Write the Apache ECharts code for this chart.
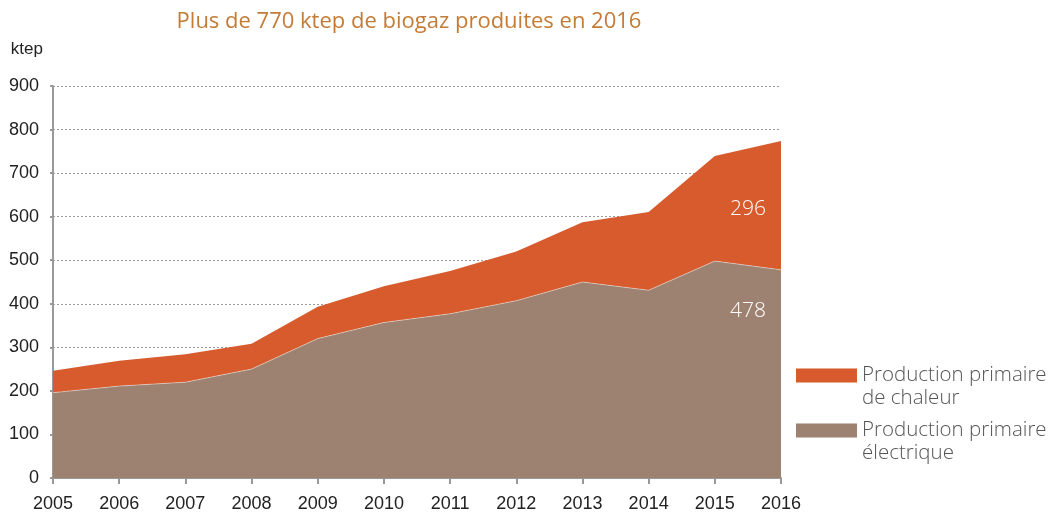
<!DOCTYPE html>
<html>
<head>
<meta charset="utf-8">
<script src="https://cdn.jsdelivr.net/npm/echarts@6/dist/echarts.min.js"></script>
<style>html,body{margin:0;padding:0;background:#fff}#c{width:1051px;height:514px}</style>
</head>
<body>
<div id="c"></div>
<script>
const years = ['2005','2006','2007','2008','2009','2010','2011','2012','2013','2014','2015','2016'];
const electrique = [196, 211, 220, 250, 320, 357, 377, 407, 450, 431, 498, 478];
const chaleur = [50, 58, 64, 58, 73, 83, 98, 113, 137, 180, 241, 296];
const yTicks = [0, 100, 200, 300, 400, 500, 600, 700, 800, 900];
const nameChaleur = 'Production primaire de chaleur';
const nameElec = 'Production primaire électrique';

const tickFont = "'Liberation Sans', sans-serif";
const lightFont = "'Open Sans', 'Noto Sans', sans-serif";

function endLab(offsetY) {
  return {
    show: true, align: 'right', distance: 8, offset: [-23, offsetY],
    color: '#fff', fontSize: 21, fontFamily: lightFont, fontWeight: 300,
    formatter: p => String(p.value)
  };
}

const chart = echarts.init(document.getElementById('c'));
chart.setOption({
  animation: false,
  title: {
    text: 'Plus de 770 ktep de biogaz produites en 2016',
    left: 404, textAlign: 'center', top: 6,
    textStyle: { color: '#C47B36', fontSize: 22, fontWeight: 'normal', fontFamily: lightFont }
  },
  grid: { left: 53, right: 270, top: 86, bottom: 36, containLabel: false },
  legend: [{
    data: [nameChaleur], orient: 'vertical', left: 796, top: 341, padding: 0,
    itemWidth: 61, itemHeight: 14, itemGap: 0, icon: 'rect',
    formatter: () => '\nProduction primaire\nde chaleur',
    textStyle: { color: '#555', fontSize: 20.5, lineHeight: 23, fontFamily: lightFont, fontWeight: 300 }
  }, {
    data: [nameElec], orient: 'vertical', left: 796, top: 396, padding: 0,
    itemWidth: 61, itemHeight: 14, itemGap: 0, icon: 'rect',
    formatter: () => '\nProduction primaire\nélectrique',
    textStyle: { color: '#555', fontSize: 20.5, lineHeight: 23, fontFamily: lightFont, fontWeight: 300 }
  }],
  xAxis: {
    type: 'category', data: years, boundaryGap: false,
    axisLine: { lineStyle: { color: '#999', width: 2 } },
    axisTick: { show: true, length: 6, lineStyle: { color: '#999', width: 2 } },
    axisLabel: { color: '#222', fontSize: 18, fontFamily: tickFont, margin: 17 },
    splitLine: { show: false }
  },
  yAxis: {
    type: 'value', min: 0, max: 900, interval: 100,
    name: 'ktep', nameLocation: 'end', nameGap: 28,
    nameTextStyle: { color: '#222', fontSize: 17, fontFamily: tickFont, align: 'right', padding: [0, 10, 0, 0] },
    axisLine: { show: true, lineStyle: { color: '#999', width: 2 } },
    axisTick: { show: true, inside: false, length: 3, lineStyle: { color: '#999', width: 2 } },
    axisLabel: { color: '#222', fontSize: 18, fontFamily: tickFont, margin: 14,
      formatter: v => yTicks.includes(v) ? String(v) : '' },
    splitLine: { show: true, lineStyle: { color: '#999', type: [2, 2], width: 1 } }
  },
  series: [{
    name: nameElec, type: 'line', stack: 'total',
    data: electrique,
    symbol: 'none', showSymbol: false,
    lineStyle: { width: 1, color: 'rgba(255,255,255,0.4)' },
    itemStyle: { color: '#9D8271' },
    areaStyle: { color: '#9D8271', opacity: 1 },
    endLabel: endLab(41),
    z: 3
  }, {
    name: nameChaleur, type: 'line', stack: 'total',
    data: chaleur,
    symbol: 'none', showSymbol: false,
    lineStyle: { width: 0 },
    itemStyle: { color: '#D85B2D' },
    areaStyle: { color: '#D85B2D', opacity: 1 },
    endLabel: endLab(68),
    z: 2
  }]
});
</script>
</body>
</html>
